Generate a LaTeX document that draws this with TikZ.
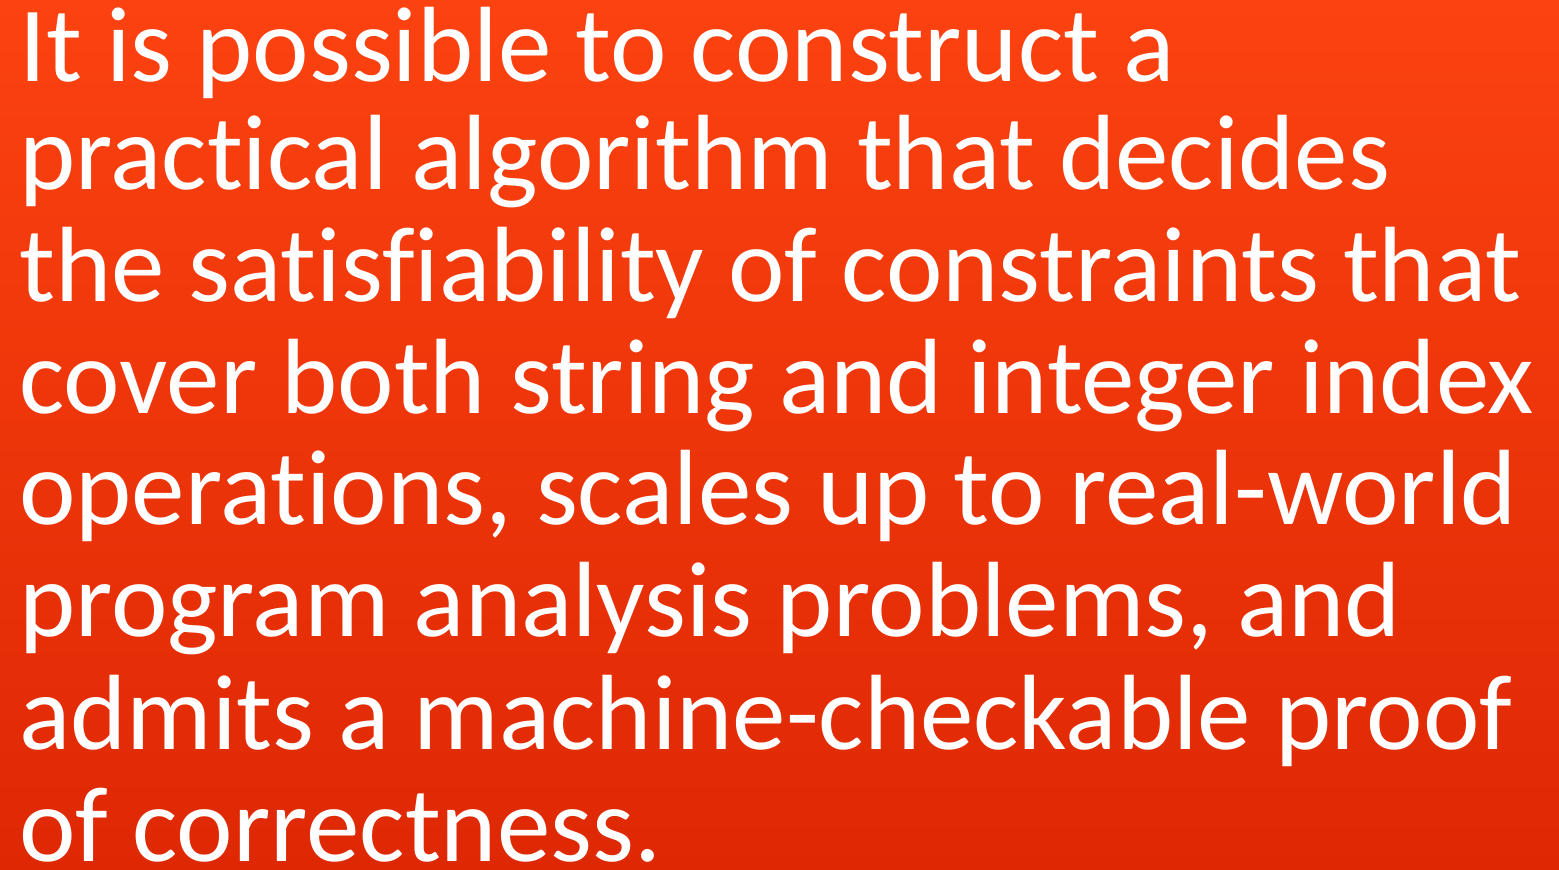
\documentclass[tikz,border=0pt]{standalone}
\usepackage{fontspec}
\setmainfont[Ligatures={NoCommon,NoRare}]{Carlito}
\definecolor{slidetop}{RGB}{252,66,16}
\definecolor{slidebottom}{RGB}{222,40,4}
\tikzset{
  slideline/.style={anchor=base west, inner sep=0pt, text=white,
    font=\fontsize{107}{112}\selectfont}
}
\begin{document}
\begin{tikzpicture}[x=1pt,y=1pt]
  % background with vertical gradient
  \shade[top color=slidetop, bottom color=slidebottom] (0,0) rectangle (1559,870);
  \useasboundingbox (0,0) rectangle (1559,870);
  % statement, one node per line (baselines measured from the top edge)
  \node[slideline] (l1) at (19,870-82)  {It is possible to construct a};
  \node[slideline] (l2) at (19,870-190) {practical algorithm that decides};
  \node[slideline] (l3) at (19,870-302) {the satisfiability of constraints that};
  \node[slideline] (l4) at (19,870-414) {cover both string and integer index};
  \node[slideline] (l5) at (19,870-525) {operations, scales up to real-world};
  \node[slideline] (l6) at (19,870-637) {program analysis problems, and};
  \node[slideline] (l7) at (19,870-750) {admits a machine-checkable proof};
  \node[slideline] (l8) at (19,870-862) {of correctness.};
\end{tikzpicture}
\end{document}
